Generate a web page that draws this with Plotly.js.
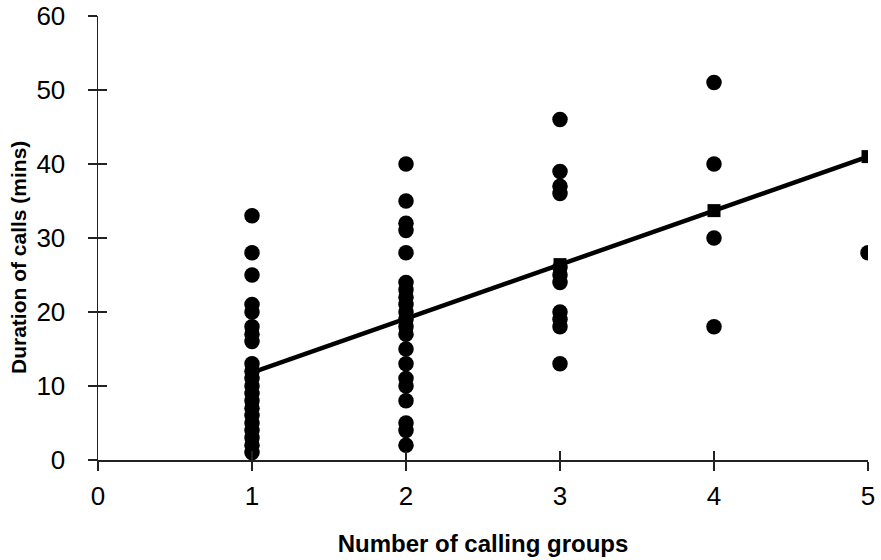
<!DOCTYPE html>
<html>
<head>
<meta charset="utf-8">
<script src="https://cdn.plot.ly/plotly-3.0.1.min.js"></script>
<style>html,body{margin:0;padding:0;background:#fff;}#chart{width:881px;height:560px;}</style>
</head>
<body>
<div id="chart"></div>
<script>
// Observed call durations (mins) by number of calling groups
const groupCounts = [1, 2, 3, 4, 5];
const durations1 = [33, 28, 25, 21, 20, 18, 17, 16, 13, 12, 11, 10, 9, 8, 7, 6, 5, 4, 3, 2, 1];
const durations2 = [40, 35, 32, 31, 28, 24, 23, 22, 21, 20, 19, 18, 17, 15, 13, 11, 10, 8, 5, 4, 2];
const durations3 = [46, 39, 37, 36, 26, 25, 24, 20, 19, 18, 13];
const durations4 = [51, 40, 30, 18];
const durations5 = [28];
// Fitted line values at each group count
const fittedDuration = [11.8, 19.1, 26.4, 33.7, 41.0];
const xTicks = [0, 1, 2, 3, 4, 5];
const yTicks = [0, 10, 20, 30, 40, 50, 60];
const xTitle = 'Number of calling groups';
const yTitle = 'Duration of calls (mins)';

const allDur = [durations1, durations2, durations3, durations4, durations5];
const ptsX = [], ptsY = [];
allDur.forEach((arr, i) => arr.forEach(v => { ptsX.push(groupCounts[i]); ptsY.push(v); }));

const font = "Liberation Sans, Arial, sans-serif";

const traces = [
  {
    x: groupCounts, y: fittedDuration, type: 'scatter', mode: 'lines+markers',
    line: {color: '#000', width: 4.5},
    marker: {symbol: 'square', size: 13, color: '#000'},
    hoverinfo: 'none', showlegend: false
  },
  {
    x: ptsX, y: ptsY, type: 'scatter', mode: 'markers',
    marker: {symbol: 'circle', size: 15.5, color: '#000'},
    hoverinfo: 'none', showlegend: false
  },
  {
    x: [null], y: [null], xaxis: 'x2', yaxis: 'y2', type: 'scatter', mode: 'markers',
    showlegend: false, hoverinfo: 'none'
  }
];

const axCommon = {
  showgrid: false, zeroline: false, showline: true, linecolor: '#222', linewidth: 1.5,
  ticks: 'outside', ticklen: 9, tickwidth: 1.2, tickcolor: '#222',
  tickfont: {family: font, size: 26, color: '#000'}, fixedrange: true
};

const layout = {
  width: 881, height: 560,
  margin: {l: 98, r: 13, t: 16, b: 100},
  paper_bgcolor: '#fff', plot_bgcolor: '#fff',
  xaxis: Object.assign({}, axCommon, {
    range: [0, 5], tickvals: xTicks, ticktext: xTicks.map(String), ticklabelstandoff: 3,
    title: {text: '<b>' + xTitle + '</b>', font: {family: font, size: 24, color: '#000'}, standoff: 25}
  }),
  yaxis: Object.assign({}, axCommon, {
    range: [0, 60], tickvals: yTicks, ticktext: yTicks.map(String), ticklabelstandoff: 17
  }),
  xaxis2: {overlaying: 'x', anchor: 'y2', range: [0, 5], tickvals: xTicks, ticks: 'inside', ticklen: 9,
    tickwidth: 1.2, tickcolor: '#222', showticklabels: false, showgrid: false, zeroline: false, showline: false, fixedrange: true},
  yaxis2: {overlaying: 'y', anchor: 'x2', side: 'left', range: [0, 60], tickvals: yTicks, ticks: 'inside', ticklen: 9,
    tickwidth: 1.2, tickcolor: '#222', showticklabels: false, showgrid: false, zeroline: false, showline: false, fixedrange: true},
  annotations: [{
    text: '<b>' + yTitle + '</b>', xref: 'paper', yref: 'paper', x: -0.104, y: 0.457,
    xanchor: 'center', yanchor: 'middle', textangle: -90, showarrow: false,
    font: {family: font, size: 21, color: '#000'}
  }],
  showlegend: false
};

Plotly.newPlot('chart', traces, layout, {displayModeBar: false, staticPlot: true});
</script>
</body>
</html>
